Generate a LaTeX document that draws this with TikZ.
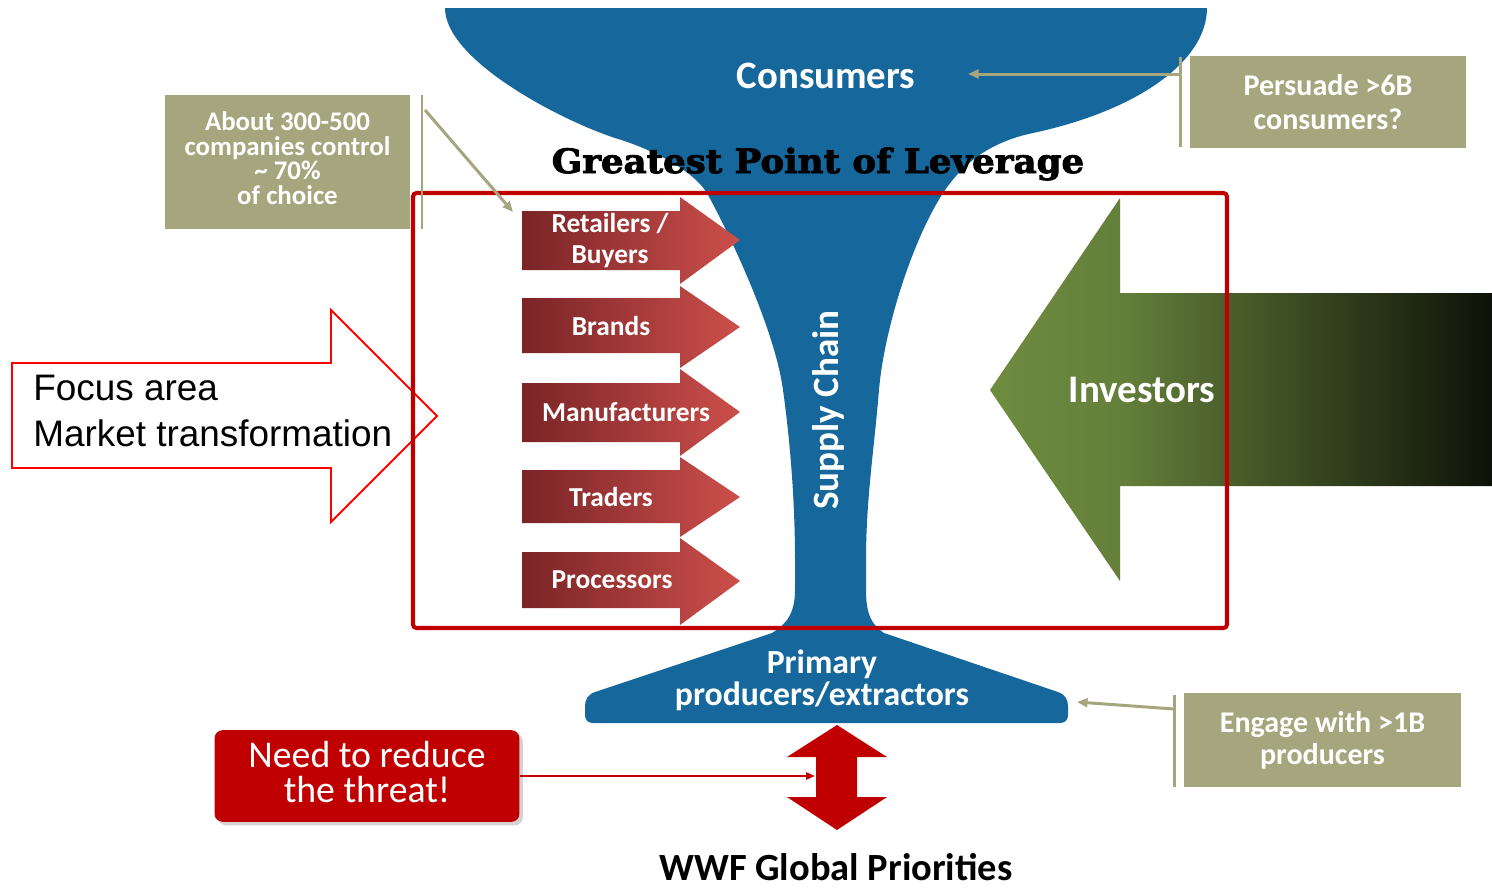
\documentclass[tikz,border=0pt]{standalone}
\usepackage{fontspec}
\setmainfont{Carlito}
\newfontfamily\arialf{Liberation Sans}
\newfontfamily\slabf[BoldFeatures={FakeBold=2.5}]{DejaVu Serif}
\usetikzlibrary{arrows.meta,shadows}
\definecolor{funnelblue}{HTML}{16679B}
\definecolor{boxred}{HTML}{C00000}
\definecolor{olive}{HTML}{A6A67E}
\definecolor{chevL}{HTML}{7A2427}
\definecolor{chevR}{HTML}{CC4F4B}
\definecolor{invA}{HTML}{6E8C40}
\definecolor{invB}{HTML}{647F3A}
\definecolor{invC}{HTML}{0E1208}
\pgfdeclarehorizontalshading{invshade}{100bp}{color(0bp)=(invA); color(25bp)=(invA); color(38bp)=(invB); color(75bp)=(invC); color(100bp)=(invC)}
\newcommand\fs[2]{\fontsize{#1}{#2}\selectfont}
\newcommand\pxu{0.5669pt}
\begin{document}
\begin{tikzpicture}[x=0.02cm,y=-0.02cm,
  lbl/.style={text=white,font=\bfseries\fs{15.6}{18},align=center,inner sep=0pt},
  olivebox/.style={fill=olive,text=white,align=center,inner sep=0pt},
  oliveline/.style={draw=olive,line width=1.7pt},
  olivearrow/.style={oliveline,-{Triangle[length=6pt,width=5pt]}},
  chev/.style={left color=chevL,right color=chevR,draw=none},
  whitebold/.style={text=white,inner sep=0pt},
]
\useasboundingbox (0,0) rectangle (1492,887);

% funnel
\fill[funnelblue] (445,8) -- (1207,8)
 .. controls (1207,60) and (1140,110) .. (1033,133)
 .. controls (990,142) and (963,163) .. (943,193)
 .. controls (912,241) and (884,330) .. (879,390)
 .. controls (874,450) and (866,500) .. (866,560)
 -- (866,590)
 .. controls (866,615) and (872,625) .. (884,633)
 -- (1058,692)
 .. controls (1066,695) and (1068,700) .. (1068,707)
 -- (1068,715)
 .. controls (1068,720) and (1065,723) .. (1060,723)
 -- (593,723)
 .. controls (588,723) and (585,720) .. (585,715)
 -- (585,707)
 .. controls (585,700) and (587,695) .. (595,692)
 -- (772,633)
 .. controls (785,625) and (795,615) .. (795,590)
 -- (795,560)
 .. controls (795,500) and (790,440) .. (783,390)
 .. controls (775,330) and (730,235) .. (707,193)
 .. controls (693,171) and (655,150) .. (615,138)
 .. controls (560,120) and (445,60) .. (445,8) -- cycle;

% chevrons
\foreach \i/\ya/\yb/\ha/\hb/\t/\cx/\txt in {
 1/211/270/197/284/240/610/{Retailers /\\Buyers},
 2/298/353/286/368/327/611/{Brands},
 3/383/442/369/456/412/626/{Manufacturers},
 4/470/523/457/537/497/611/{Traders},
 5/552/608/538/625/581/612/{Processors}}{
 \path[chev] (522,\ya) -- (680,\ya) -- (680,\ha) -- (740,\t) -- (680,\hb) -- (680,\yb) -- (522,\yb) -- cycle;
 \node[lbl] (chev\i) at (\cx,{(\ya+\yb)/2}) {\txt};
}

% leverage title
\node[anchor=base,inner sep=0pt] (leverage) at (818,173) {\resizebox{303pt}{14.5pt}{\slabf\bfseries Greatest Point of Leverage}};

% investors arrow
\path[shading=invshade] (990,390) -- (1120,198) -- (1120,293) -- (1492,293) -- (1492,486) -- (1120,486) -- (1120,581) -- cycle;

% focus arrow
\draw[draw=red,line width=1.1pt,fill=white] (12,363) -- (331,363) -- (331,310) -- (437,416) -- (331,522) -- (331,468) -- (12,468) -- cycle;
\node[anchor=base west,inner sep=0pt,font=\arialf\fs{21}{24}] (focus1) at (33,400) {Focus area};
\node[anchor=base west,inner sep=0pt,font=\arialf\fs{21}{24}] (focus2) at (33,446) {Market transformation};

% red frame
\draw[boxred,line width=2.3pt,rounded corners=2pt] (413,193) rectangle (1227,628);

% olive boxes
\node[olivebox,minimum width=246*\pxu,minimum height=134*\pxu] (about) at (287.5,162) {};
\node[whitebold,align=center,font=\bfseries\fs{15.3}{14}] (abouttext) at (287.5,158) {About 300-500\\companies control\\\textasciitilde\ 70\%\\of choice};
\coordinate (aboutbarA) at (422,95);
\coordinate (aboutbarB) at (422,229);
\draw[oliveline] (aboutbarA) -- (aboutbarB);
\coordinate (aboutfrom) at (425,110);
\coordinate (abouttip) at (513,212);
\draw[olivearrow] (aboutfrom) -- (abouttip);

\node[olivebox,minimum width=278*\pxu,minimum height=92*\pxu,font=\bfseries\fs{17.1}{19.8}] (persuade) at (1328,102) {Persuade >6B\\consumers?};
\coordinate (pbarA) at (1180,57);
\coordinate (pbarB) at (1180,147);
\draw[oliveline] (pbarA) -- (pbarB);
\coordinate (pfrom) at (1180,74);
\coordinate (ptip) at (968,74);
\draw[olivearrow] (pfrom) -- (ptip);

\node[olivebox,minimum width=279*\pxu,minimum height=94*\pxu,font=\bfseries\fs{17.1}{18}] (engage) at (1322.5,740) {Engage with >1B\\producers};
\coordinate (ebarA) at (1174,695);
\coordinate (ebarB) at (1174,787);
\draw[oliveline] (ebarA) -- (ebarB);
\coordinate (efrom) at (1174,709);
\coordinate (etip) at (1077,702);
\draw[olivearrow] (efrom) -- (etip);

% threat box
\node[fill=boxred,rounded corners=4.5pt,minimum width=306*\pxu,minimum height=92*\pxu,inner sep=0pt,drop shadow={shadow xshift=2pt,shadow yshift=-2pt,opacity=0.35}] (threat) at (367,776) {};
\node[whitebold,align=center,font=\fs{21.5}{20.4}] (threattext) at (367,772) {Need to reduce\\the threat!};

% double arrow
\fill[boxred] (837,725) -- (887,757) -- (857,757) -- (857,797) -- (887,797) -- (837,830) -- (787,797) -- (816,797) -- (816,757) -- (787,757) -- cycle;
\coordinate (dbltip) at (815,776);
\draw[boxred,line width=1.1pt,-{Triangle[length=5pt,width=4pt]}] (threat.east) -- (dbltip);

% texts
\node[whitebold,font=\bfseries\fs{22.1}{24}] (consumers) at (826,76) {Consumers};
\node[whitebold,font=\bfseries\fs{21.1}{24},rotate=90] (supply) at (828,410) {Supply Chain};
\node[whitebold,font=\bfseries\fs{19.2}{18.2},align=center] (primary) at (822,680) {Primary\\producers/extractors};
\node[whitebold,font=\bfseries\fs{22.2}{24}] (investors) at (1142,390) {Investors};
\node[anchor=base,inner sep=0pt,font=\bfseries\fs{21.9}{24}] (wwf) at (836,880) {WWF Global Priorities};
\end{tikzpicture}
\end{document}
